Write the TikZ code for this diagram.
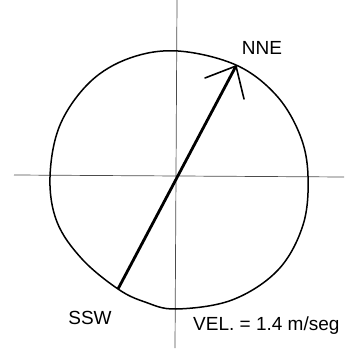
\documentclass[tikz,border=0pt]{standalone}
\usepackage{fontspec}
\setmainfont{Liberation Sans}
\begin{document}
\begin{tikzpicture}[x=1pt,y=-1pt,
  axis/.style={draw=black!70,line width=0.7pt},
  rim/.style={draw=black,line width=1.5pt},
  vec/.style={draw=black,line width=2.8pt},
  barb/.style={draw=black,line width=1.6pt,line cap=round},
  lab/.style={font=\fontsize{19}{21}\selectfont,inner sep=0pt}]
\useasboundingbox (0,0) rectangle (363,355);
\coordinate (C) at (180,177);
\coordinate (H1) at (14,175);
\coordinate (H2) at (344,177);
\coordinate (V1) at (177,0);
\coordinate (V2) at (175,348);
\draw[axis] (H1) -- (H2);
\draw[axis] (V1) -- (V2);
\draw[rim] plot[smooth cycle,tension=0.6] coordinates {(178,51) (236,65) (276,95) (300,135) (308,176) (303,225) (278,270) (232,300) (176,309) (145,302) (118,289) (82,259) (57,222) (50,177) (60,125) (90,82) (130,58)};
\coordinate (S) at (118,289);
\coordinate (N) at (236,66);
\coordinate (BL) at (205,78);
\coordinate (BR) at (244,99);
\draw[vec] (S) -- (N);
\draw[barb] (N) -- (BL);
\draw[barb] (N) -- (BR);
\node[lab] (nne) at (262,48) {NNE};
\node[lab] (ssw) at (90,318) {SSW};
\node[lab,anchor=west] (vel) at (193,326) {VEL. = 1.4 m/seg};
\end{tikzpicture}
\end{document}
